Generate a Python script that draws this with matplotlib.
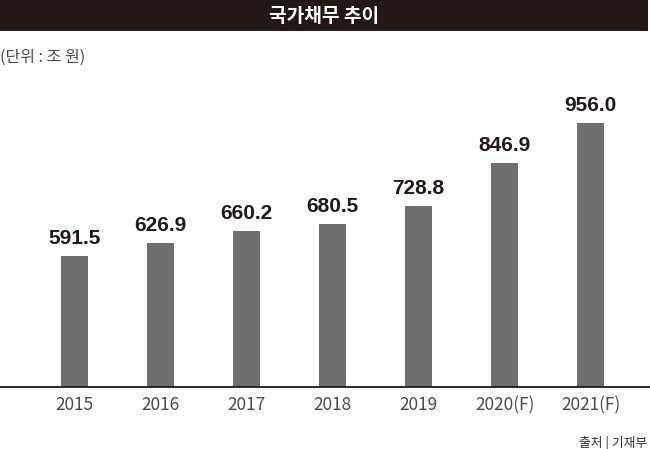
import matplotlib
matplotlib.use("Agg")
import matplotlib.pyplot as plt
from matplotlib.patches import Rectangle

years = ["2015", "2016", "2017", "2018", "2019", "2020(F)", "2021(F)"]
debt = [591.5, 626.9, 660.2, 680.5, 728.8, 846.9, 956.0]
value_labels = ["591.5", "626.9", "660.2", "680.5", "728.8", "846.9", "956.0"]

title = "국가채무 추이"
unit = "(단위 : 조 원)"
source = "출처 | 기재부"

KR = ["Noto Sans CJK KR", "DejaVu Sans"]
plt.rcParams['font.family'] = KR

W, H = 650, 449
fig = plt.figure(figsize=(W / 100, H / 100), dpi=100)
fig.patch.set_facecolor("white")

dark = "#231815"
bar_c = "#6f6f6f"
light_txt = "#4a4a4a"

# title bar
fig.patches.append(Rectangle((0, 1 - 31 / H), 648 / W, 31 / H, transform=fig.transFigure,
                             facecolor=dark, edgecolor="none", zorder=0))
fig.text(324 / W, 1 - 16.5 / H, title, color="white", fontsize=13.8, fontweight="bold",
         ha="center", va="center", family=KR)
fig.text(0 / W, 1 - 57.5 / H, unit, color=light_txt, fontsize=11.5, fontweight="light",
         ha="left", va="center", family=KR)
fig.text(647 / W, 1 - 443 / H, source, color="#333333", fontsize=9.2, fontweight="regular",
         ha="right", va="center", family=KR)

ax = fig.add_axes([0, 1 - 387 / H, 1, (387 - 31) / H])
x = list(range(len(years)))
ax.bar(x, debt, width=0.32, color=bar_c, zorder=2)
ax.set_xlim(-0.866, 6.69)
ax.set_ylim(230.8, 1210)

for xi, v, lab in zip(x, debt, value_labels):
    ax.annotate(lab, xy=(xi, v), xytext=(0, 8.6), textcoords="offset points",
                ha="center", va="baseline", fontsize=15, fontweight="bold",
                color=dark, family=["Liberation Sans", "DejaVu Sans"])

ax.set_xticks(x)
ax.set_xticklabels(years, fontsize=12.4, fontweight="light", color=light_txt)
for t in ax.get_xticklabels():
    t.set_va("center")
ax.tick_params(axis="x", length=0, pad=13)
ax.set_yticks([])
for s in ["top", "left", "right"]:
    ax.spines[s].set_visible(False)
ax.spines["bottom"].set_color(dark)
ax.spines["bottom"].set_linewidth(1.3)
ax.patch.set_alpha(0)

fig.savefig("out.png", dpi=100)
